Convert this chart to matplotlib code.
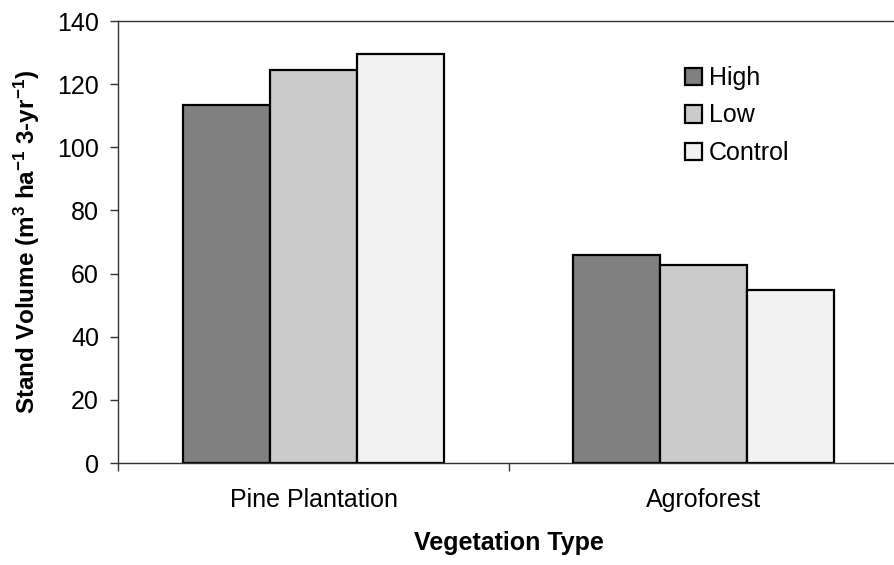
import matplotlib.pyplot as plt
import numpy as np

plt.rcParams['font.family'] = ['Liberation Sans', 'DejaVu Sans']
plt.rcParams['mathtext.fontset'] = 'custom'
plt.rcParams['mathtext.rm'] = 'Liberation Sans'
plt.rcParams['mathtext.bf'] = 'Liberation Sans:bold'

# data
veg_types = ['Pine Plantation', 'Agroforest']
treatments = ['High', 'Low', 'Control']
high = [113.5, 66.0]
low = [124.6, 62.6]
control = [129.7, 54.8]
colors = ['#808080', '#cbcbcb', '#f2f2f2']

fig = plt.figure(figsize=(8.95, 5.65), dpi=100)
ax = fig.add_axes([0.1324, 0.1805, 0.872, 0.7823])

x = np.arange(len(veg_types))
w = 0.223
for i, (vals, name) in enumerate(zip([high, low, control], treatments)):
    ax.bar(x + (i - 1) * w, vals, width=w, color=colors[i], edgecolor='black',
           linewidth=1.6, label=name)

ax.set_xlim(-0.5, 1.5)
ax.set_ylim(0, 140)
ax.set_yticks(range(0, 141, 20))

# ticks on the category boundaries, labels in the middle
ax.set_xticks([-0.5, 0.5, 1.5])
ax.set_xticklabels([])
ax.set_xticks(x, minor=True)
ax.set_xticklabels(veg_types, minor=True)
ax.tick_params(axis='x', which='major', length=6, width=1, color='#333333')
ax.tick_params(axis='x', which='minor', length=0, pad=18, labelsize=18)
ax.tick_params(axis='y', length=6, width=1, pad=8, labelsize=18, color='#333333')

for s in ['left', 'bottom', 'top']:
    ax.spines[s].set_color('#333333')
    ax.spines[s].set_linewidth(1)
ax.spines['right'].set_visible(False)

ax.set_xlabel('Vegetation Type', fontsize=18, fontweight='bold', labelpad=14)
ax.set_ylabel(r'Stand Volume (m$\mathbf{^{3}}$ ha$\mathbf{^{-1}}$ 3-yr$\mathbf{^{-1}}$)',
              fontsize=17.5, fontweight='bold')
ax.yaxis.set_label_coords(-0.098, 0.5)

leg = ax.legend(loc='upper left', bbox_to_anchor=(685 / 895, 1 - 66 / 565),
                bbox_transform=fig.transFigure, frameon=False, fontsize=18,
                handlelength=0.7, handleheight=0.7, handletextpad=0.25,
                labelspacing=0.54, borderpad=0, borderaxespad=0)

plt.savefig('out.png', dpi=100)
